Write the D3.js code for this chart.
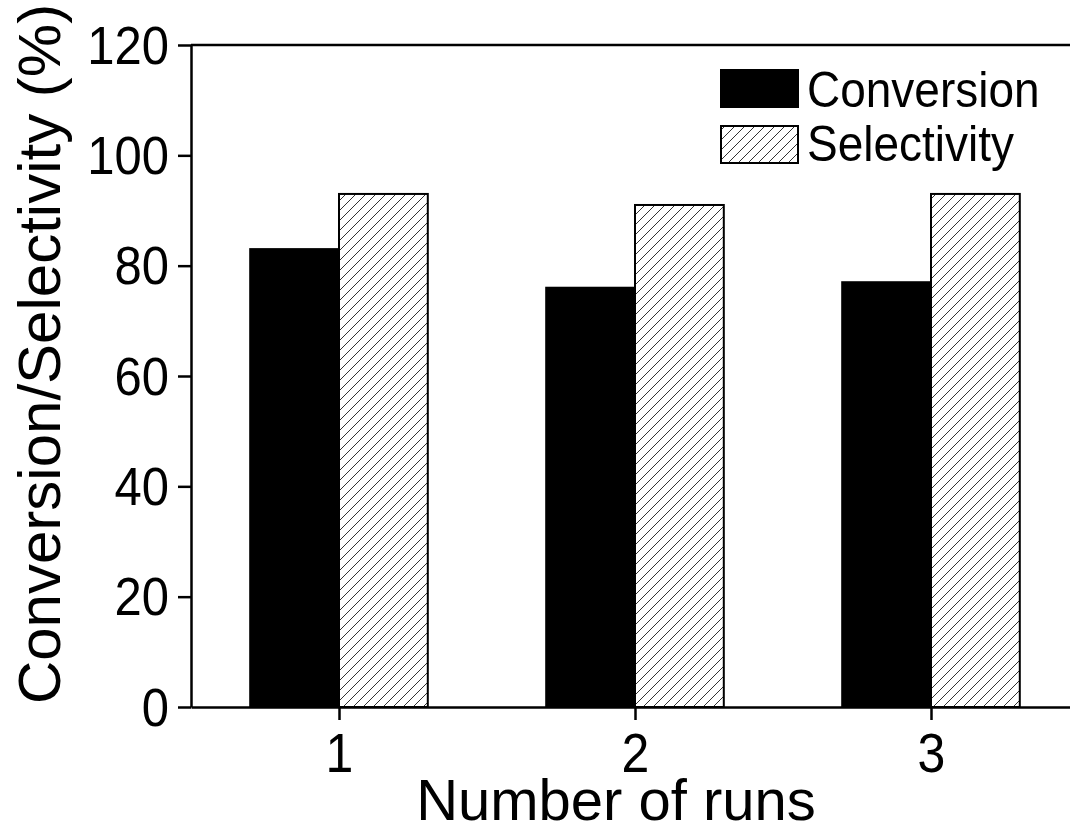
<!DOCTYPE html>
<html>
<head>
<meta charset="utf-8">
<script src="https://cdn.jsdelivr.net/npm/d3@7"></script>
<style>
  body { margin: 0; background: #fff; }
  text { font-family: "Liberation Sans", Arial, sans-serif; fill: #000; }
</style>
</head>
<body>
<div id="chart"></div>
<script>
// Data
const runs = [1, 2, 3];
const conversion = [83, 76, 77];
const selectivity = [93, 91, 93];
const yTicks = [0, 20, 40, 60, 80, 100, 120];
const seriesNames = ["Conversion", "Selectivity"];

const width = 1070;
const height = 832;
const stretch = 1.1; // tick and legend text is a bit taller than plain Arial

const svg = d3
  .select("#chart")
  .append("svg")
  .attr("width", width)
  .attr("height", height);

// Hatch pattern
const defs = svg.append("defs");
const hatch = defs
  .append("pattern")
  .attr("id", "hatch")
  .attr("patternUnits", "userSpaceOnUse")
  .attr("width", 10)
  .attr("height", 10);
hatch.append("rect").attr("width", 10).attr("height", 10).attr("fill", "#fff");
hatch
  .append("path")
  .attr("d", "M-1,1 l2,-2 M0,10 l10,-10 M9,11 l2,-2")
  .attr("stroke", "#333")
  .attr("stroke-width", 1);

// Scales (x axis runs 0.5..3.5, right side is cropped)
const x = d3.scaleLinear().domain([0.5, 3.5]).range([191, 1079]);
const y = d3.scaleLinear().domain([0, 120]).range([707, 45]);
const barW = 0.3;

// Bars
const bars = runs.map((r, i) => ({ run: r, conv: conversion[i], sel: selectivity[i] }));

svg
  .selectAll("rect.conv")
  .data(bars)
  .enter()
  .append("rect")
  .attr("class", "conv")
  .attr("x", (d) => x(d.run - barW))
  .attr("y", (d) => y(d.conv))
  .attr("width", (d) => x(d.run) - x(d.run - barW))
  .attr("height", (d) => y(0) - y(d.conv))
  .attr("fill", "#000")
  .attr("stroke", "#000")
  .attr("stroke-width", 2);

svg
  .selectAll("rect.sel")
  .data(bars)
  .enter()
  .append("rect")
  .attr("class", "sel")
  .attr("x", (d) => x(d.run))
  .attr("y", (d) => y(d.sel))
  .attr("width", (d) => x(d.run + barW) - x(d.run))
  .attr("height", (d) => y(0) - y(d.sel))
  .attr("fill", "url(#hatch)")
  .attr("stroke", "#000")
  .attr("stroke-width", 2);

// Axes
const yAxis = svg
  .append("g")
  .attr("transform", `translate(${x(0.5)},0)`)
  .call(d3.axisLeft(y).tickValues(yTicks).tickSize(13).tickPadding(9).tickSizeOuter(0));
yAxis.select(".domain").attr("stroke-width", 2.5);
yAxis.selectAll(".tick line").attr("stroke-width", 2.5);
yAxis
  .selectAll(".tick text")
  .style("font-size", "49px")
  .attr("dy", "0.34em")
  .attr("transform", `scale(1,${stretch})`);

const xAxis = svg
  .append("g")
  .attr("transform", `translate(0,${y(0)})`)
  .call(d3.axisBottom(x).tickValues(runs).tickSize(13).tickSizeOuter(0).tickFormat(d3.format("d")));
xAxis.select(".domain").attr("stroke-width", 2.5);
xAxis.selectAll(".tick line").attr("stroke-width", 2.5);
xAxis
  .selectAll(".tick text")
  .style("font-size", "50px")
  .attr("y", 65 / stretch)
  .attr("dy", 0)
  .attr("transform", `scale(1,${stretch})`);

// Top frame line
svg
  .append("line")
  .attr("x1", x(0.5))
  .attr("x2", x(3.5))
  .attr("y1", y(120))
  .attr("y2", y(120))
  .attr("stroke", "#000")
  .attr("stroke-width", 2.5);

// Axis titles
svg
  .append("text")
  .attr("x", 616)
  .attr("y", 820)
  .attr("text-anchor", "middle")
  .style("font-size", "58px")
  .text("Number of runs");

svg
  .append("text")
  .attr("transform", "translate(60,354) rotate(-90)")
  .attr("text-anchor", "middle")
  .style("font-size", "60px")
  .text("Conversion/Selectivity (%)");

// Legend
const legend = svg.append("g").attr("transform", "translate(721,70)");
const legendItems = seriesNames.map((name, i) => ({ name, fill: i === 0 ? "#000" : "url(#hatch)" }));
legend
  .selectAll("rect")
  .data(legendItems)
  .enter()
  .append("rect")
  .attr("x", 0)
  .attr("y", (d, i) => i * 56)
  .attr("width", 77)
  .attr("height", 37)
  .attr("fill", (d) => d.fill)
  .attr("stroke", "#000")
  .attr("stroke-width", 2);
legend
  .selectAll("text")
  .data(legendItems)
  .enter()
  .append("text")
  .attr("x", 86)
  .attr("y", (d, i) => (37 + i * 54) / stretch)
  .attr("transform", `scale(1,${stretch})`)
  .style("font-size", "46px")
  .text((d) => d.name);
</script>
</body>
</html>
